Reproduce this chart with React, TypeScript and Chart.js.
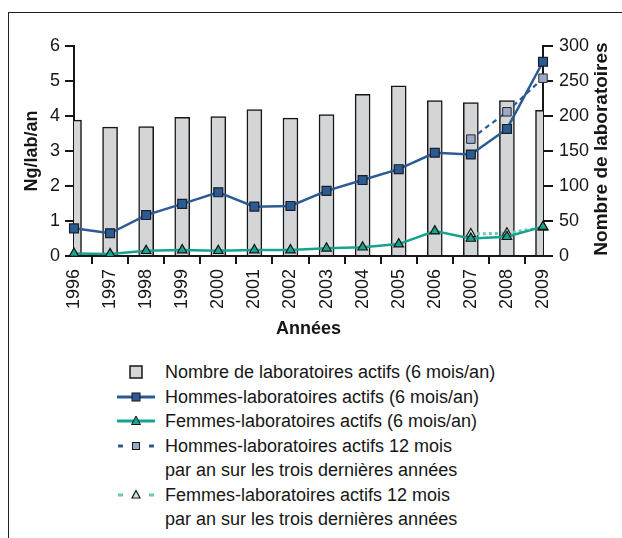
import React, { useEffect, useRef } from "react";
import { Chart, registerables } from "chart.js";

Chart.register(...registerables);

const years = ["1996", "1997", "1998", "1999", "2000", "2001", "2002", "2003", "2004", "2005", "2006", "2007", "2008", "2009"];
const labsActifs = [194, 184, 185, 198, 199, 209, 197, 202, 231, 243, 222, 219, 222, 208];
const hommes6 = [0.79, 0.65, 1.17, 1.49, 1.82, 1.41, 1.43, 1.86, 2.17, 2.48, 2.95, 2.9, 3.63, 5.55];
const femmes6 = [0.07, 0.06, 0.15, 0.17, 0.15, 0.17, 0.17, 0.22, 0.25, 0.34, 0.71, 0.5, 0.55, 0.84];
const hommes12 = [null, null, null, null, null, null, null, null, null, null, null, 3.34, 4.12, 5.08];
const femmes12 = [null, null, null, null, null, null, null, null, null, null, null, 0.63, 0.65, 0.82];

const leftTicks = [0, 1, 2, 3, 4, 5, 6];
const rightTicks = [0, 50, 100, 150, 200, 250, 300];

const LEFT_TITLE = "Ng/lab/an";
const RIGHT_TITLE = "Nombre de laboratoires";
const X_TITLE = "Années";

const FONT = '"Liberation Sans", Arial, sans-serif';
const INK = "#161616";
const BLUE = "#2b5b93";
const TEAL = "#14a38e";
const TEAL_LIGHT = "#6cc7b6";
const BAR_FILL = "#d4d5d7";
const LIGHT_SQ = "#9ba8c9";

const rightTitlePlugin = {
  id: "rightTitle",
  afterDraw(chart: any) {
    const { ctx, chartArea } = chart;
    ctx.save();
    ctx.translate(chart.width - 19, (chartArea.top + chartArea.bottom) / 2 - 2);
    ctx.rotate(-Math.PI / 2);
    ctx.font = `bold 19px ${FONT}`;
    ctx.fillStyle = INK;
    ctx.textAlign = "center";
    ctx.textBaseline = "middle";
    ctx.fillText(RIGHT_TITLE, 0, 0);
    ctx.restore();
  },
};

function LegendMarker({ kind }: { kind: string }) {
  if (kind === "bar") {
    return (
      <svg width="40" height="24" style={{ display: "block" }}>
        <rect x="14" y="6" width="12" height="12" fill={BAR_FILL} stroke={INK} strokeWidth="1.5" />
      </svg>
    );
  }
  if (kind === "hommes") {
    return (
      <svg width="40" height="24" style={{ display: "block" }}>
        <line x1="1" y1="12" x2="39" y2="12" stroke={BLUE} strokeWidth="3" />
        <rect x="16" y="8" width="8" height="8" fill={BLUE} stroke={INK} strokeWidth="1" />
      </svg>
    );
  }
  if (kind === "femmes") {
    return (
      <svg width="40" height="24" style={{ display: "block" }}>
        <line x1="1" y1="12" x2="39" y2="12" stroke={TEAL} strokeWidth="3" />
        <polygon points="20,7 24.5,15.5 15.5,15.5" fill={TEAL} stroke={INK} strokeWidth="1" />
      </svg>
    );
  }
  if (kind === "hommes12") {
    return (
      <svg width="40" height="24" style={{ display: "block" }}>
        <line x1="2" y1="12" x2="7" y2="12" stroke={BLUE} strokeWidth="3" />
        <line x1="33" y1="12" x2="38" y2="12" stroke={BLUE} strokeWidth="3" />
        <rect x="16.5" y="8.5" width="7" height="7" fill={LIGHT_SQ} stroke={INK} strokeWidth="1" />
      </svg>
    );
  }
  return (
    <svg width="40" height="24" style={{ display: "block" }}>
      <line x1="2" y1="12" x2="7" y2="12" stroke={TEAL_LIGHT} strokeWidth="3" />
      <line x1="33" y1="12" x2="38" y2="12" stroke={TEAL_LIGHT} strokeWidth="3" />
      <polygon points="20,7.5 24,15 16,15" fill="#c9ece4" stroke={INK} strokeWidth="1.2" />
    </svg>
  );
}

const legendItems: { kind: string; lines: string[] }[] = [
  { kind: "bar", lines: ["Nombre de laboratoires actifs (6 mois/an)"] },
  { kind: "hommes", lines: ["Hommes-laboratoires actifs (6 mois/an)"] },
  { kind: "femmes", lines: ["Femmes-laboratoires actifs (6 mois/an)"] },
  { kind: "hommes12", lines: ["Hommes-laboratoires actifs 12 mois", "par an sur les trois dernières années"] },
  { kind: "femmes12", lines: ["Femmes-laboratoires actifs 12 mois", "par an sur les trois dernières années"] },
];

export default function App() {
  const canvasRef = useRef<HTMLCanvasElement | null>(null);

  useEffect(() => {
    const canvas = canvasRef.current;
    if (!canvas) return;
    const chart = new Chart(canvas, {
      type: "bar",
      data: {
        labels: years,
        datasets: [
          {
            type: "line",
            label: "Hommes-laboratoires actifs 12 mois",
            data: hommes12 as any,
            yAxisID: "y",
            borderColor: BLUE,
            borderWidth: 2.2,
            borderDash: [5, 4],
            pointStyle: "rect",
            pointRadius: 6,
            pointBackgroundColor: LIGHT_SQ,
            pointBorderColor: "#2a2a2a",
            pointBorderWidth: 1,
            spanGaps: false,
            order: 3,
          } as any,
          {
            type: "line",
            label: "Femmes-laboratoires actifs 12 mois",
            data: femmes12 as any,
            yAxisID: "y",
            borderColor: TEAL_LIGHT,
            borderWidth: 3,
            borderDash: [3, 3],
            pointStyle: "triangle",
            pointRadius: 5.5,
            pointBackgroundColor: "#c9ece4",
            pointBorderColor: "#1a1a1a",
            pointBorderWidth: 1.2,
            order: 4,
          } as any,
          {
            type: "line",
            label: "Hommes-laboratoires actifs (6 mois/an)",
            data: hommes6,
            yAxisID: "y",
            borderColor: BLUE,
            borderWidth: 2.5,
            pointStyle: "rect",
            pointRadius: 6.3,
            pointBackgroundColor: BLUE,
            pointBorderColor: "#1a1f2a",
            pointBorderWidth: 1.2,
            tension: 0,
            order: 1,
          } as any,
          {
            type: "line",
            label: "Femmes-laboratoires actifs (6 mois/an)",
            data: femmes6,
            yAxisID: "y",
            borderColor: TEAL,
            borderWidth: 2.5,
            pointStyle: "triangle",
            pointRadius: 5.5,
            pointBackgroundColor: TEAL,
            pointBorderColor: "#111",
            pointBorderWidth: 1.2,
            tension: 0,
            order: 2,
          } as any,
          {
            type: "bar",
            label: "Nombre de laboratoires actifs (6 mois/an)",
            data: labsActifs,
            yAxisID: "y2",
            backgroundColor: BAR_FILL,
            borderColor: INK,
            borderWidth: 1.5,
            barThickness: 15,
            order: 10,
          } as any,
        ],
      },
      options: {
        responsive: false,
        animation: false,
        events: [],
        layout: { padding: { top: 33, left: 0, right: 0, bottom: 0 } },
        plugins: {
          legend: { display: false },
          tooltip: { enabled: false },
        },
        scales: {
          x: {
            type: "category",
            offset: false,
            grid: {
              display: true,
              drawOnChartArea: false,
              drawTicks: true,
              tickLength: 8,
              color: INK,
              lineWidth: 2,
            },
            border: { display: true, color: INK, width: 2 },
            ticks: {
              minRotation: 90,
              maxRotation: 90,
              autoSkip: false,
              padding: 5,
              color: INK,
              font: { family: FONT, size: 18 },
            },
            title: {
              display: true,
              text: X_TITLE,
              color: INK,
              font: { family: FONT, size: 18, weight: "bold" },
              padding: { top: 2, bottom: 3 },
            },
            afterFit(scale: any) {
              scale.height = 87;
            },
          },
          y: {
            position: "left",
            min: 0,
            max: 6,
            afterBuildTicks(scale: any) {
              scale.ticks = leftTicks.map((v) => ({ value: v }));
            },
            grid: {
              display: true,
              drawOnChartArea: false,
              drawTicks: true,
              tickLength: 9,
              color: INK,
              lineWidth: 2,
            },
            border: { display: true, color: INK, width: 2 },
            ticks: {
              padding: 5,
              color: INK,
              font: { family: FONT, size: 18 },
            },
            title: {
              display: true,
              text: LEFT_TITLE,
              color: INK,
              font: { family: FONT, size: 18, weight: "bold" },
              padding: { top: 12, bottom: 4 },
            },
            afterFit(scale: any) {
              scale.width = 65;
            },
          },
          y2: {
            position: "right",
            min: 0,
            max: 300,
            afterBuildTicks(scale: any) {
              scale.ticks = rightTicks.map((v) => ({ value: v }));
            },
            grid: {
              display: true,
              drawOnChartArea: false,
              drawTicks: true,
              tickLength: 10,
              color: INK,
              lineWidth: 2,
            },
            border: { display: true, color: INK, width: 2 },
            ticks: {
              padding: 6,
              color: INK,
              font: { family: FONT, size: 18 },
            },
            afterFit(scale: any) {
              scale.width = 78;
            },
          },
        },
      } as any,
      plugins: [rightTitlePlugin],
    });
    return () => chart.destroy();
  }, []);

  return (
    <div
      style={{
        position: "absolute",
        left: 8,
        top: 12,
        width: 614,
        height: 526,
        boxSizing: "border-box",
        borderTop: "1px solid #222",
        borderLeft: "1px solid #222",
        fontFamily: FONT,
        color: INK,
        background: "#fff",
      }}
    >
      <canvas ref={canvasRef} width={612} height={330} style={{ position: "absolute", left: 0, top: 0, display: "block" }} />
      <div style={{ position: "absolute", left: 107, top: 347, fontSize: 18, lineHeight: "24.5px" }}>
        {legendItems.map((it, i) => (
          <div key={i} style={{ display: "flex", alignItems: "flex-start" }}>
            <div style={{ width: 49, height: 24.5, display: "flex", alignItems: "center" }}>
              <LegendMarker kind={it.kind} />
            </div>
            <div style={{ whiteSpace: "nowrap" }}>
              {it.lines.map((l, j) => (
                <div key={j}>{l}</div>
              ))}
            </div>
          </div>
        ))}
      </div>
    </div>
  );
}
